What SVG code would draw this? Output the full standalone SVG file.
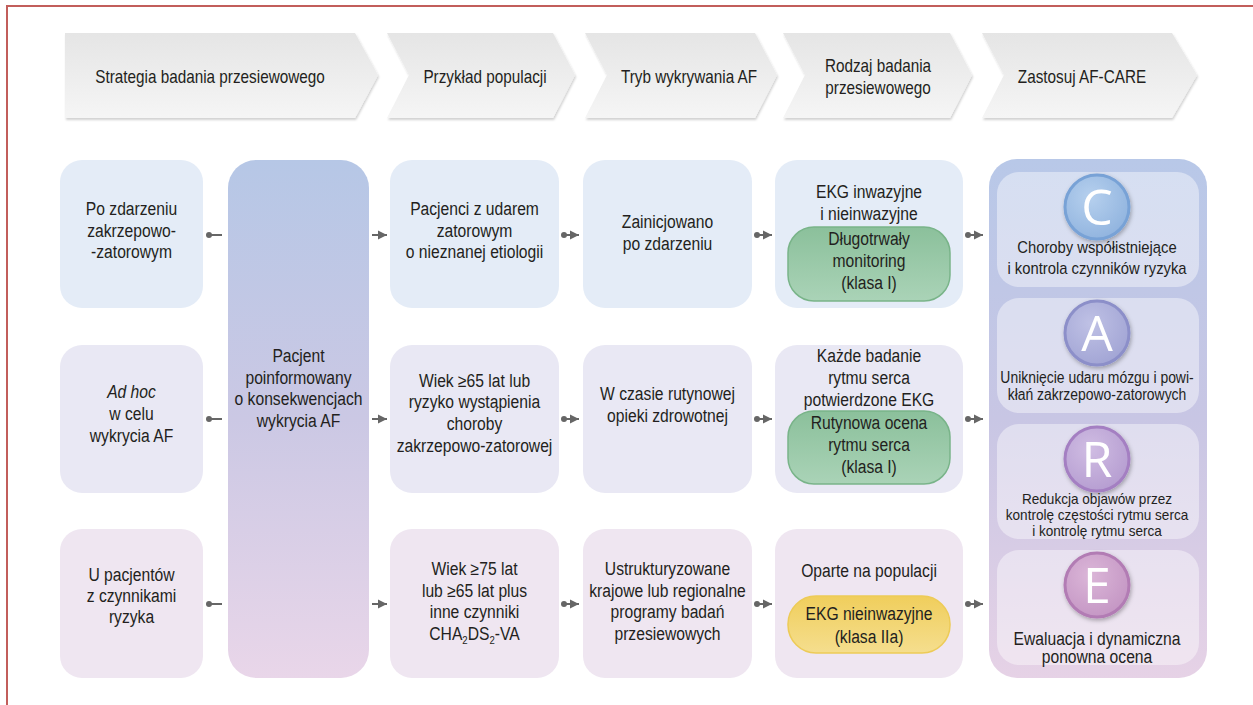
<svg xmlns="http://www.w3.org/2000/svg" width="1253" height="705" viewBox="0 0 1253 705">
  <defs>
    <style>
      .t { font-family: "Liberation Sans", Arial, sans-serif; font-size: 18px; fill: #231f20; text-anchor: middle; }
      .s17 { font-size: 17px; }
      .s16 { font-size: 16px; }
      .s14 { font-size: 14px; }
      .letter { font-family: "Open Sans", "Liberation Sans", sans-serif; font-size: 50px; fill: #ffffff; text-anchor: middle; }
      .chev { fill: url(#chevFill); filter: url(#soft); }
      .r1 { fill: #e4ecf7; }
      .r2 { fill: #e9e8f4; }
      .r3 { fill: #efe6f1; }
      .panel { fill: #ffffff; fill-opacity: 0.42; }
      .conn { fill: none; stroke: #666666; stroke-width: 2; }
    </style>
    <linearGradient id="chevFill" x1="0" y1="0" x2="0" y2="1">
      <stop offset="0" stop-color="#e5e5e5"/>
      <stop offset="1" stop-color="#f5f5f5"/>
    </linearGradient>
    <linearGradient id="tallFill" x1="0" y1="0" x2="0" y2="1">
      <stop offset="0" stop-color="#b6c7e6"/>
      <stop offset="0.5" stop-color="#cbc8e4"/>
      <stop offset="1" stop-color="#e9d6e9"/>
    </linearGradient>
    <linearGradient id="careFill" x1="0" y1="0" x2="0" y2="1">
      <stop offset="0" stop-color="#b8c8e8"/>
      <stop offset="0.5" stop-color="#c8c6e4"/>
      <stop offset="1" stop-color="#e6d2e6"/>
    </linearGradient>
    <linearGradient id="greenFill" x1="0" y1="0" x2="0" y2="1">
      <stop offset="0" stop-color="#8bc09b"/>
      <stop offset="1" stop-color="#aad3b7"/>
    </linearGradient>
    <linearGradient id="yellowFill" x1="0" y1="0" x2="0" y2="1">
      <stop offset="0" stop-color="#f0ce5c"/>
      <stop offset="1" stop-color="#f5de8e"/>
    </linearGradient>
    <radialGradient id="cFill" cx="0.4" cy="0.35" r="0.75">
      <stop offset="0" stop-color="#b6d0ee"/>
      <stop offset="1" stop-color="#8db1dd"/>
    </radialGradient>
    <radialGradient id="aFill" cx="0.4" cy="0.35" r="0.75">
      <stop offset="0" stop-color="#bfc1e5"/>
      <stop offset="1" stop-color="#9fa2d3"/>
    </radialGradient>
    <radialGradient id="rFill" cx="0.4" cy="0.35" r="0.75">
      <stop offset="0" stop-color="#d0bde3"/>
      <stop offset="1" stop-color="#b39acf"/>
    </radialGradient>
    <radialGradient id="eFill" cx="0.4" cy="0.35" r="0.75">
      <stop offset="0" stop-color="#dbb6d8"/>
      <stop offset="1" stop-color="#c293c2"/>
    </radialGradient>
    <filter id="soft" x="-5%" y="-10%" width="115%" height="130%">
      <feDropShadow dx="1" dy="2" stdDeviation="1.2" flood-color="#000000" flood-opacity="0.18"/>
    </filter>
    <filter id="ball" x="-30%" y="-30%" width="160%" height="160%">
      <feDropShadow dx="1" dy="2" stdDeviation="2" flood-color="#000000" flood-opacity="0.3"/>
    </filter>
    <marker id="tri" viewBox="0 0 10 10" refX="10" refY="5" markerWidth="9" markerHeight="10" markerUnits="userSpaceOnUse" orient="auto">
      <path d="M0,0 L10,5 L0,10 z" fill="#666666"/>
    </marker>
    <marker id="dot" viewBox="0 0 6 6" refX="3" refY="3" markerWidth="6" markerHeight="6" markerUnits="userSpaceOnUse">
      <circle cx="3" cy="3" r="3" fill="#666666"/>
    </marker>
  </defs>

  <rect width="1253" height="705" fill="#ffffff"/>
  <!-- outer frame -->
  <rect x="7" y="6" width="1270" height="720" fill="none" stroke="#c25e5b" stroke-width="2"/>

  <!-- header chevrons -->
  <g id="header">
    <g id="h1">
      <polygon class="chev" points="65,33 355,33 378,75 355,118 65,118"/>
      <g transform="translate(210 0) scale(0.85 1)"><text class="t"><tspan x="0" y="83">Strategia badania przesiewowego</tspan></text></g>
    </g>
    <g id="h2">
      <polygon class="chev" points="387,33 553,33 575,75 553,118 387,118 409,75"/>
      <g transform="translate(485 0) scale(0.85 1)"><text class="t"><tspan x="0" y="83">Przykład populacji</tspan></text></g>
    </g>
    <g id="h3">
      <polygon class="chev" points="585,33 755,33 777,75 755,118 585,118 607,75"/>
      <g transform="translate(689 0) scale(0.85 1)"><text class="t"><tspan x="0" y="83">Tryb wykrywania AF</tspan></text></g>
    </g>
    <g id="h4">
      <polygon class="chev" points="783,33 950,33 972,75 950,118 783,118 805,75"/>
      <g transform="translate(878 0) scale(0.85 1)"><text class="t"><tspan x="0" y="72">Rodzaj badania</tspan><tspan x="0" y="94">przesiewowego</tspan></text></g>
    </g>
    <g id="h5">
      <polygon class="chev" points="982,33 1172,33 1197,75 1172,118 982,118 1004,75"/>
      <g transform="translate(1082 0) scale(0.85 1)"><text class="t"><tspan x="0" y="83">Zastosuj AF-CARE</tspan></text></g>
    </g>
  </g>

  <!-- column 1: screening strategy -->
  <g id="strategy-event">
    <rect class="r1" x="60" y="160" width="143" height="148" rx="22"/>
    <g transform="translate(131.5 0) scale(0.87 1)"><text class="t"><tspan x="0" y="215">Po zdarzeniu</tspan><tspan x="0" y="237">zakrzepowo-</tspan><tspan x="0" y="258">-zatorowym</tspan></text></g>
  </g>
  <g id="strategy-adhoc">
    <rect class="r2" x="60" y="345" width="143" height="148" rx="22"/>
    <g transform="translate(131.5 0) scale(0.87 1)"><text class="t"><tspan x="0" y="398" font-style="italic">Ad hoc</tspan><tspan x="0" y="420">w celu</tspan><tspan x="0" y="442">wykrycia AF</tspan></text></g>
  </g>
  <g id="strategy-risk">
    <rect class="r3" x="60" y="529" width="143" height="149" rx="22"/>
    <g transform="translate(131.5 0) scale(0.87 1)"><text class="t"><tspan x="0" y="581">U pacjentów</tspan><tspan x="0" y="602">z czynnikami</tspan><tspan x="0" y="623">ryzyka</tspan></text></g>
  </g>

  <!-- column 2: informed patient -->
  <g id="patient">
    <rect x="228" y="160" width="141" height="518" rx="28" fill="url(#tallFill)"/>
    <g transform="translate(298.5 0) scale(0.87 1)"><text class="t"><tspan x="0" y="362">Pacjent</tspan><tspan x="0" y="384">poinformowany</tspan><tspan x="0" y="405">o konsekwencjach</tspan><tspan x="0" y="427">wykrycia AF</tspan></text></g>
  </g>

  <!-- column 3: population -->
  <g id="pop-stroke">
    <rect class="r1" x="390" y="160" width="169" height="148" rx="22"/>
    <g transform="translate(474.5 0) scale(0.87 1)"><text class="t"><tspan x="0" y="215">Pacjenci z udarem</tspan><tspan x="0" y="237">zatorowym</tspan><tspan x="0" y="258">o nieznanej etiologii</tspan></text></g>
  </g>
  <g id="pop-age65">
    <rect class="r2" x="390" y="345" width="169" height="148" rx="22"/>
    <g transform="translate(474.5 0) scale(0.87 1)"><text class="t"><tspan x="0" y="387">Wiek ≥65 lat lub</tspan><tspan x="0" y="408">ryzyko wystąpienia</tspan><tspan x="0" y="430">choroby</tspan><tspan x="0" y="452">zakrzepowo-zatorowej</tspan></text></g>
  </g>
  <g id="pop-age75">
    <rect class="r3" x="390" y="529" width="169" height="149" rx="22"/>
    <g transform="translate(474.5 0) scale(0.87 1)"><text class="t"><tspan x="0" y="575">Wiek ≥75 lat</tspan><tspan x="0" y="597">lub ≥65 lat plus</tspan><tspan x="0" y="618">inne czynniki</tspan><tspan x="0" y="640">CHA<tspan font-size="11" dy="4">2</tspan><tspan dy="-4">DS</tspan><tspan font-size="11" dy="4">2</tspan><tspan dy="-4">-VA</tspan></tspan></text></g>
  </g>

  <!-- column 4: detection mode -->
  <g id="mode-event">
    <rect class="r1" x="583" y="160" width="169" height="148" rx="22"/>
    <g transform="translate(667.5 0) scale(0.87 1)"><text class="t"><tspan x="0" y="228">Zainicjowano</tspan><tspan x="0" y="250">po zdarzeniu</tspan></text></g>
  </g>
  <g id="mode-routine">
    <rect class="r2" x="583" y="345" width="169" height="148" rx="22"/>
    <g transform="translate(667.5 0) scale(0.87 1)"><text class="t"><tspan x="0" y="400">W czasie rutynowej</tspan><tspan x="0" y="422">opieki zdrowotnej</tspan></text></g>
  </g>
  <g id="mode-programme">
    <rect class="r3" x="583" y="529" width="169" height="149" rx="22"/>
    <g transform="translate(667.5 0) scale(0.87 1)"><text class="t"><tspan x="0" y="575">Ustrukturyzowane</tspan><tspan x="0" y="597">krajowe lub regionalne</tspan><tspan x="0" y="618">programy badań</tspan><tspan x="0" y="640">przesiewowych</tspan></text></g>
  </g>

  <!-- column 5: type of screening -->
  <g id="type-ecg">
    <rect class="r1" x="775" y="160" width="188" height="148" rx="22"/>
    <rect x="788" y="227" width="162" height="74" rx="26" fill="url(#greenFill)" stroke="#79b489" stroke-width="1.5"/>
    <g transform="translate(869 0) scale(0.87 1)"><text class="t"><tspan x="0" y="198">EKG inwazyjne</tspan><tspan x="0" y="220">i nieinwazyjne</tspan><tspan x="0" y="245">Długotrwały</tspan><tspan x="0" y="267">monitoring</tspan><tspan x="0" y="289">(klasa I)</tspan></text></g>
  </g>
  <g id="type-rhythm">
    <rect class="r2" x="775" y="345" width="188" height="148" rx="22"/>
    <rect x="788" y="411" width="162" height="73" rx="26" fill="url(#greenFill)" stroke="#79b489" stroke-width="1.5"/>
    <g transform="translate(869 0) scale(0.87 1)"><text class="t"><tspan x="0" y="362">Każde badanie</tspan><tspan x="0" y="384">rytmu serca</tspan><tspan x="0" y="406">potwierdzone EKG</tspan><tspan x="0" y="429">Rutynowa ocena</tspan><tspan x="0" y="451">rytmu serca</tspan><tspan x="0" y="473">(klasa I)</tspan></text></g>
  </g>
  <g id="type-population">
    <rect class="r3" x="775" y="529" width="188" height="149" rx="22"/>
    <rect x="788" y="596" width="162" height="57" rx="28" fill="url(#yellowFill)" stroke="#edcb57" stroke-width="1.5"/>
    <g transform="translate(869 0) scale(0.87 1)"><text class="t"><tspan x="0" y="577">Oparte na populacji</tspan><tspan x="0" y="620">EKG nieinwazyjne</tspan><tspan x="0" y="643">(klasa IIa)</tspan></text></g>
  </g>

  <!-- column 6: AF-CARE -->
  <g id="af-care">
    <rect x="989" y="159" width="218" height="519" rx="28" fill="url(#careFill)"/>
    <g id="care-c">
      <rect class="panel" x="997" y="172" width="202" height="115" rx="22"/>
      <circle cx="1097" cy="207" r="32" fill="url(#cFill)" stroke="#78a2d6" stroke-width="3" filter="url(#ball)"/>
      <text class="letter" x="1097" y="225">C</text>
      <g transform="translate(1097 0) scale(0.87 1)"><text class="t s17"><tspan x="0" y="253">Choroby współistniejące</tspan><tspan x="0" y="274">i kontrola czynników ryzyka</tspan></text></g>
    </g>
    <g id="care-a">
      <rect class="panel" x="997" y="298" width="202" height="115" rx="22"/>
      <circle cx="1097" cy="333" r="32" fill="url(#aFill)" stroke="#8c8fc9" stroke-width="3" filter="url(#ball)"/>
      <text class="letter" x="1097" y="351">A</text>
      <g transform="translate(1097 0) scale(0.87 1)"><text class="t s16"><tspan x="0" y="383">Uniknięcie udaru mózgu i powi-</tspan><tspan x="0" y="400">kłań zakrzepowo-zatorowych</tspan></text></g>
    </g>
    <g id="care-r">
      <rect class="panel" x="997" y="424" width="202" height="115" rx="22"/>
      <circle cx="1097" cy="459" r="32" fill="url(#rFill)" stroke="#a47fc2" stroke-width="3" filter="url(#ball)"/>
      <text class="letter" x="1097" y="477">R</text>
      <g transform="translate(1097 0) scale(0.97 1)"><text class="t s14"><tspan x="0" y="504">Redukcja objawów przez</tspan><tspan x="0" y="520">kontrolę częstości rytmu serca</tspan><tspan x="0" y="536">i kontrolę rytmu serca</tspan></text></g>
    </g>
    <g id="care-e">
      <rect class="panel" x="997" y="550" width="202" height="115" rx="22"/>
      <circle cx="1097" cy="585" r="32" fill="url(#eFill)" stroke="#b27bb4" stroke-width="3" filter="url(#ball)"/>
      <text class="letter" x="1097" y="603">E</text>
      <g transform="translate(1097 0) scale(0.87 1)"><text class="t"><tspan x="0" y="645">Ewaluacja i dynamiczna</tspan><tspan x="0" y="663">ponowna ocena</tspan></text></g>
    </g>
  </g>

  <!-- connectors -->
  <g id="connectors">
    <path class="conn" marker-start="url(#dot)" d="M209,235 H222"/>
    <path class="conn" marker-start="url(#dot)" d="M209,419 H222"/>
    <path class="conn" marker-start="url(#dot)" d="M209,604 H222"/>

    <path class="conn" marker-end="url(#tri)" d="M372,235 H387"/>
    <path class="conn" marker-end="url(#tri)" d="M372,419 H387"/>
    <path class="conn" marker-end="url(#tri)" d="M372,604 H387"/>

    <path class="conn" marker-start="url(#dot)" marker-end="url(#tri)" d="M564,235 H579"/>
    <path class="conn" marker-start="url(#dot)" marker-end="url(#tri)" d="M564,419 H579"/>
    <path class="conn" marker-start="url(#dot)" marker-end="url(#tri)" d="M564,604 H579"/>

    <path class="conn" marker-start="url(#dot)" marker-end="url(#tri)" d="M757,235 H772"/>
    <path class="conn" marker-start="url(#dot)" marker-end="url(#tri)" d="M757,419 H772"/>
    <path class="conn" marker-start="url(#dot)" marker-end="url(#tri)" d="M757,604 H772"/>

    <path class="conn" marker-start="url(#dot)" marker-end="url(#tri)" d="M968,235 H983"/>
    <path class="conn" marker-start="url(#dot)" marker-end="url(#tri)" d="M968,419 H983"/>
    <path class="conn" marker-start="url(#dot)" marker-end="url(#tri)" d="M968,604 H983"/>
  </g>
</svg>
